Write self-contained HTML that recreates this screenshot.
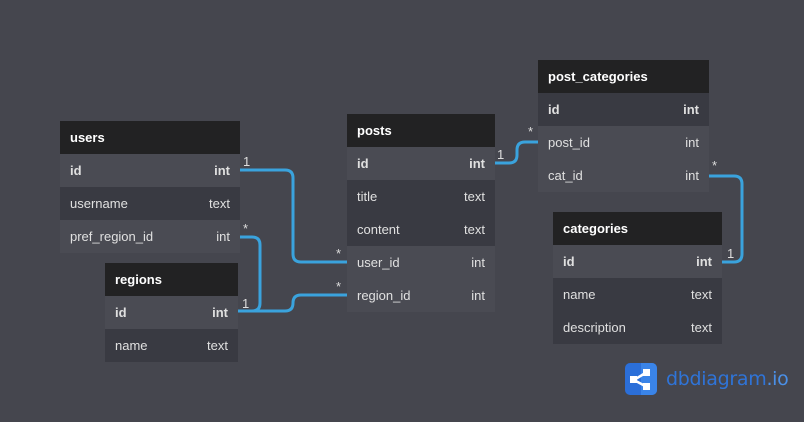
<!DOCTYPE html>
<html><head><style>
body{margin:0;width:804px;height:422px;background:#45464e;position:relative;overflow:hidden;font-family:"Liberation Sans",sans-serif;}
.t{position:absolute;}
.h{height:33px;background:#222223;color:#fff;font-weight:bold;font-size:13px;line-height:33px;padding-left:10px;box-sizing:border-box;}
.r{height:33px;line-height:33px;font-size:13px;color:#e0e0e0;padding:0 10px;box-sizing:border-box;display:flex;justify-content:space-between;background:#393a42;}
.r.l{background:#4a4b53;}
.r.b{font-weight:bold;}
svg{position:absolute;left:0;top:0;}
.m{position:absolute;color:#ddd;font-size:13px;}
</style></head><body>
<svg width="804" height="422"><g fill="none" stroke="#3aa3dd" stroke-width="3">
<path d="M240 170 H285 Q293 170 293 178 V254 Q293 262 301 262 H347"/>
<path d="M240 237 H252 Q260 237 260 245 V303 Q260 311 252 311 H238"/>
<path d="M238 311 H285 Q293 311 293 303 V303 Q293 295 301 295 H347"/>
<path d="M495 163 H509 Q517 163 517 155 V150 Q517 142 525 142 H538"/>
<path d="M709 176 H734 Q742 176 742 184 V254 Q742 262 734 262 H722"/>
</g></svg>
<div class="t" style="left:60px;top:121px;width:180px"><div class="h">users</div>
<div class="r l b"><span>id</span><span>int</span></div><div class="r"><span>username</span><span>text</span></div><div class="r l"><span>pref_region_id</span><span>int</span></div></div>
<div class="t" style="left:105px;top:263px;width:133px"><div class="h">regions</div>
<div class="r l b"><span>id</span><span>int</span></div><div class="r"><span>name</span><span>text</span></div></div>
<div class="t" style="left:347px;top:114px;width:148px"><div class="h">posts</div>
<div class="r l b"><span>id</span><span>int</span></div><div class="r"><span>title</span><span>text</span></div><div class="r"><span>content</span><span>text</span></div><div class="r l"><span>user_id</span><span>int</span></div><div class="r l"><span>region_id</span><span>int</span></div></div>
<div class="t" style="left:538px;top:60px;width:171px"><div class="h">post_categories</div>
<div class="r b"><span>id</span><span>int</span></div><div class="r l"><span>post_id</span><span>int</span></div><div class="r l"><span>cat_id</span><span>int</span></div></div>
<div class="t" style="left:553px;top:212px;width:169px"><div class="h">categories</div>
<div class="r l b"><span>id</span><span>int</span></div><div class="r"><span>name</span><span>text</span></div><div class="r"><span>description</span><span>text</span></div></div>
<div class="m" style="left:243px;top:154px">1</div>
<div class="m" style="left:243px;top:221px">*</div>
<div class="m" style="left:242px;top:296px">1</div>
<div class="m" style="left:336px;top:246px">*</div>
<div class="m" style="left:336px;top:279px">*</div>
<div class="m" style="left:497px;top:147px">1</div>
<div class="m" style="left:528px;top:124px">*</div>
<div class="m" style="left:712px;top:158px">*</div>
<div class="m" style="left:727px;top:246px">1</div>
<div style="position:absolute;left:625px;top:363px;width:32px;height:32px;border-radius:5px;background:#2b6fd9;overflow:hidden">
<div style="position:absolute;left:16px;top:0;width:16px;height:32px;background:#3a84e8"></div>
<svg width="32" height="32"><g stroke="#fff" stroke-width="2.5"><line x1="9" y1="17" x2="22" y2="9"/><line x1="9" y1="17" x2="22" y2="24"/></g><g fill="#fff"><rect x="5" y="13" width="7" height="7"/><rect x="18" y="6" width="7" height="7"/><rect x="18" y="20" width="7" height="7"/></g></svg></div>
<div style="position:absolute;left:666px;top:368px;font-size:19px;color:#2f74d8;font-family:'DejaVu Sans',sans-serif;letter-spacing:-0.3px">dbdiagram<span style="color:#4a90e8">.io</span></div>
</body></html>
